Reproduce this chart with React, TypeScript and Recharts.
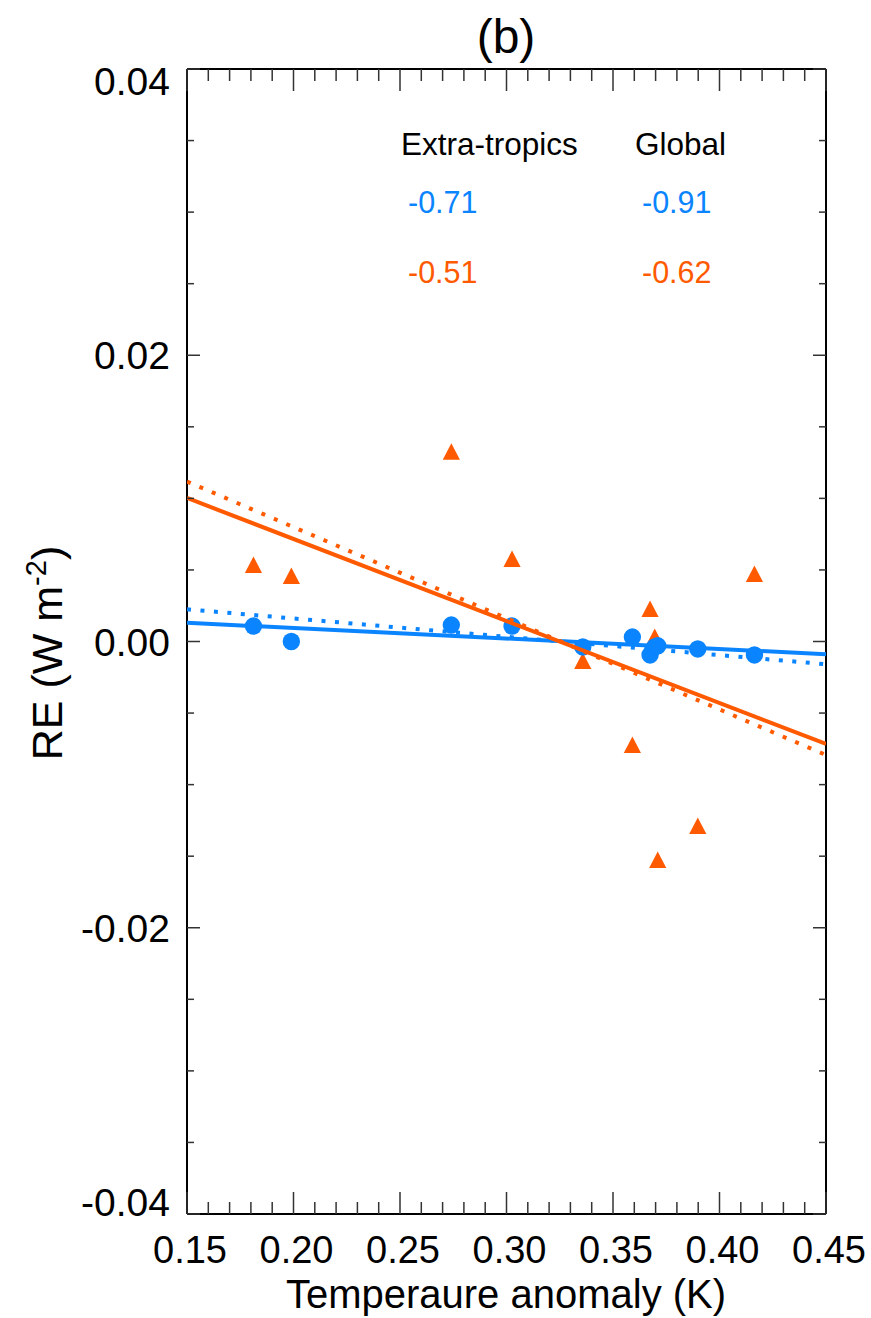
import React from 'react';
import { ScatterChart, Scatter, XAxis, YAxis } from 'recharts';

const BLUE = '#0A84FF';
const ORANGE = '#FF5A00';
const FONT = '"Liberation Sans", Arial, Helvetica, sans-serif';

// temperature anomaly of each model (K)
const tempAnomaly = [0.1812, 0.199, 0.2741, 0.3026, 0.3358, 0.3591, 0.3674, 0.3696, 0.371, 0.3898, 0.4164];
// RE (W m-2), blue circles
const circleRE = [0.00108, 0.0, 0.00115, 0.00108, -0.00038, 0.00031, -0.00094, -0.00038, -0.0003, -0.00052, -0.00094];
// RE (W m-2), orange triangles
const triangleRE = [0.00535, 0.00458, 0.01325, 0.00576, -0.00136, -0.00723, 0.00227, 0.00031, -0.01527, -0.01289, 0.00472];

// regression lines, value at each end of the x range
const fitX = [0.15, 0.45];
const blueSolidFit = [0.00131, -0.00089];
const blueDottedFit = [0.00225, -0.00159];
const orangeSolidFit = [0.01003, -0.00716];
const orangeDottedFit = [0.01118, -0.00793];

// correlation table
const tableHeaders = ['Extra-tropics', 'Global'];
const blueCorr = ['-0.71', '-0.91'];
const orangeCorr = ['-0.51', '-0.62'];

const xMajorTicks = [0.15, 0.2, 0.25, 0.3, 0.35, 0.4, 0.45];
const xTickLabels = ['0.15', '0.20', '0.25', '0.30', '0.35', '0.40', '0.45'];
const yMajorTicks = [-0.04, -0.02, 0, 0.02, 0.04];
const yTickLabels = ['-0.04', '-0.02', '0.00', '0.02', '0.04'];

function subdivide(majors: number[], parts: number) {
  const out: number[] = [];
  for (let i = 0; i < majors.length - 1; i++) {
    const step = (majors[i + 1] - majors[i]) / parts;
    for (let k = 0; k < parts; k++) out.push(+(majors[i] + k * step).toFixed(4));
  }
  out.push(majors[majors.length - 1]);
  return out;
}

const xTicks = subdivide(xMajorTicks, 5);
const yTicks = subdivide(yMajorTicks, 4);

const majorIndex = (majors: number[], v: number) =>
  majors.findIndex((m) => Math.abs(m - v) < 1e-9);

const toPoints = (ys: number[], xs: number[]) => xs.map((x, i) => ({ x, y: ys[i] }));

const circles = toPoints(circleRE, tempAnomaly);
const triangles = toPoints(triangleRE, tempAnomaly);

const TICK_STROKE = '#333';

const makeTick = (side: 'bottom' | 'top' | 'left' | 'right') => (props: any) => {
  const { x, y, payload } = props;
  const v = payload.value;
  if (side === 'bottom' || side === 'top') {
    const mi = majorIndex(xMajorTicks, v);
    const len = mi >= 0 ? 22 : 12;
    const dir = side === 'bottom' ? -1 : 1;
    return (
      <g>
        <line x1={x} x2={x} y1={y} y2={y + dir * len} stroke={TICK_STROKE} strokeWidth={1.5} />
        {side === 'bottom' && mi >= 0 && (
          <text x={x + 3} y={y + 49} textAnchor="middle" fontSize={38} fontFamily={FONT} fill="#000">
            {xTickLabels[mi]}
          </text>
        )}
      </g>
    );
  }
  const mi = majorIndex(yMajorTicks, v);
  const len = mi >= 0 ? 13 : 7;
  const dir = side === 'left' ? 1 : -1;
  // end labels sit just inside the frame, as in the original
  let shift = 0;
  if (mi === 0) shift = -12;
  if (mi === yMajorTicks.length - 1) shift = 12;
  return (
    <g>
      <line x1={x} x2={x + dir * len} y1={y} y2={y} stroke={TICK_STROKE} strokeWidth={1.5} />
      {side === 'left' && mi >= 0 && (
        <text x={x - 17} y={y + shift + 14} textAnchor="end" fontSize={39} fontFamily={FONT} fill="#000">
          {yTickLabels[mi]}
        </text>
      )}
    </g>
  );
};

const CircleShape = (props: any) => {
  const { cx, cy } = props;
  return <circle cx={cx} cy={cy} r={8.7} fill={BLUE} />;
};

const TriangleShape = (props: any) => {
  const { cx, cy } = props;
  const pts = `${cx},${cy - 8.5} ${cx - 8.6},${cy + 8} ${cx + 8.6},${cy + 8}`;
  return <polygon points={pts} fill={ORANGE} />;
};

const NoShape = () => <g />;

const axisLine = { stroke: '#000', strokeWidth: 2 };

export default function App() {
  return (
    <div style={{ width: 871, height: 1318, background: '#fff' }}>
      <style>{'body{margin:0;background:#fff}'}</style>
      <ScatterChart
        width={871}
        height={1318}
        margin={{ top: 59, right: 35, bottom: 54, left: 127 }}
      >
        <XAxis
          xAxisId="b"
          type="number"
          dataKey="x"
          domain={[0.15, 0.45]}
          ticks={xTicks}
          interval={0}
          allowDataOverflow
          height={50}
          tickSize={0}
          tickMargin={0}
          tickLine={false}
          axisLine={axisLine}
          tick={makeTick('bottom')}
        />
        <XAxis
          xAxisId="t"
          orientation="top"
          type="number"
          dataKey="x"
          domain={[0.15, 0.45]}
          ticks={xTicks}
          interval={0}
          allowDataOverflow
          height={10}
          tickSize={0}
          tickMargin={0}
          tickLine={false}
          axisLine={axisLine}
          tick={makeTick('top')}
        />
        <YAxis
          yAxisId="l"
          type="number"
          dataKey="y"
          domain={[-0.04, 0.04]}
          ticks={yTicks}
          interval={0}
          allowDataOverflow
          width={60}
          tickSize={0}
          tickMargin={0}
          tickLine={false}
          axisLine={axisLine}
          tick={makeTick('left')}
        />
        <YAxis
          yAxisId="r"
          orientation="right"
          type="number"
          dataKey="y"
          domain={[-0.04, 0.04]}
          ticks={yTicks}
          interval={0}
          allowDataOverflow
          width={10}
          tickSize={0}
          tickMargin={0}
          tickLine={false}
          axisLine={axisLine}
          tick={makeTick('right')}
        />

        <Scatter xAxisId="b" yAxisId="l" data={triangles} shape={TriangleShape} isAnimationActive={false} />
        <Scatter xAxisId="b" yAxisId="l" data={circles} shape={CircleShape} isAnimationActive={false} />

        <Scatter
          xAxisId="b"
          yAxisId="l"
          data={toPoints(blueSolidFit, fitX)}
          shape={NoShape}
          line={{ stroke: BLUE, strokeWidth: 4 }}
          isAnimationActive={false}
        />
        <Scatter
          xAxisId="b"
          yAxisId="l"
          data={toPoints(blueDottedFit, fitX)}
          shape={NoShape}
          line={{ stroke: BLUE, strokeWidth: 4, strokeDasharray: '4 9.5' }}
          isAnimationActive={false}
        />
        <Scatter
          xAxisId="b"
          yAxisId="l"
          data={toPoints(orangeSolidFit, fitX)}
          shape={NoShape}
          line={{ stroke: ORANGE, strokeWidth: 4 }}
          isAnimationActive={false}
        />
        <Scatter
          xAxisId="b"
          yAxisId="l"
          data={toPoints(orangeDottedFit, fitX)}
          shape={NoShape}
          line={{ stroke: ORANGE, strokeWidth: 4, strokeDasharray: '4 9.5' }}
          isAnimationActive={false}
        />

        {/* title */}
        <text x={506} y={53} textAnchor="middle" fontSize={48} fontFamily={FONT} fill="#000">
          (b)
        </text>

        {/* correlation table */}
        <text x={401} y={155} fontSize={31.5} fontFamily={FONT} fill="#000">{tableHeaders[0]}</text>
        <text x={635} y={155} fontSize={31.5} fontFamily={FONT} fill="#000">{tableHeaders[1]}</text>
        <text x={408} y={213} fontSize={30.5} fontFamily={FONT} fill={BLUE}>{blueCorr[0]}</text>
        <text x={642} y={213} fontSize={30.5} fontFamily={FONT} fill={BLUE}>{blueCorr[1]}</text>
        <text x={408} y={283} fontSize={30.5} fontFamily={FONT} fill={ORANGE}>{orangeCorr[0]}</text>
        <text x={642} y={283} fontSize={30.5} fontFamily={FONT} fill={ORANGE}>{orangeCorr[1]}</text>

        {/* axis titles */}
        <text x={506} y={1308} textAnchor="middle" fontSize={40} fontFamily={FONT} fill="#000">
          Temperaure anomaly (K)
        </text>
        <text
          x={62}
          y={653}
          transform="rotate(-90, 62, 653)"
          textAnchor="middle"
          fontSize={43}
          fontFamily={FONT}
          fill="#000"
        >
          RE (W m<tspan dy={-16} fontSize={29}>-2</tspan>
          <tspan dy={16}>)</tspan>
        </text>
      </ScatterChart>
    </div>
  );
}
